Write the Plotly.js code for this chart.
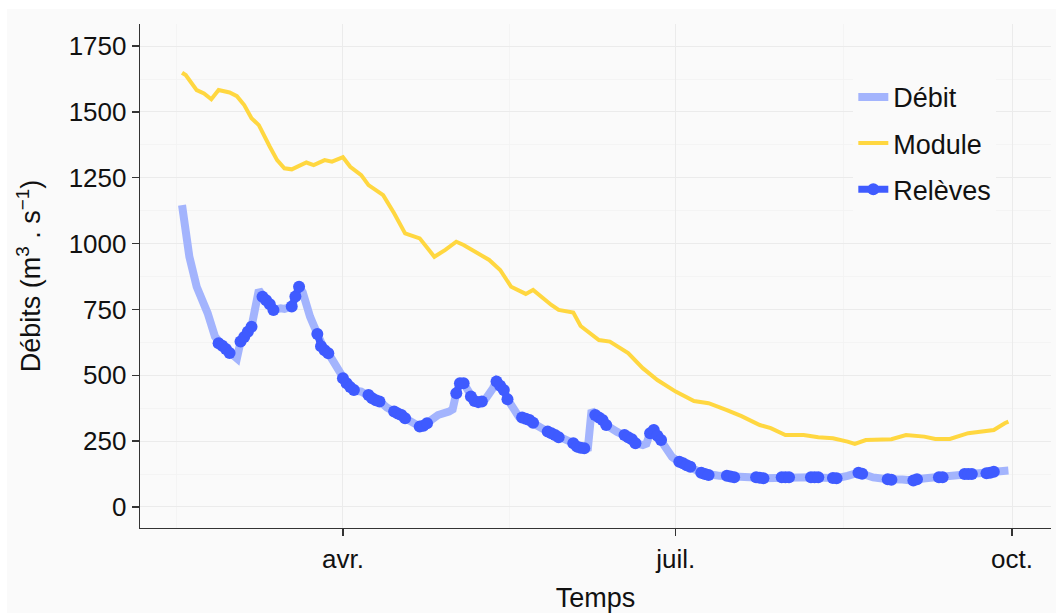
<!DOCTYPE html>
<html>
<head>
<meta charset="utf-8">
<script src="https://cdn.plot.ly/plotly-3.0.1.min.js"></script>
<style>
  html, body { margin: 0; padding: 0; background: #ffffff; }
  #chart { position: absolute; left: 7px; top: 9px; width: 1049px; height: 604px; }
</style>
</head>
<body>
<div id="chart"></div>
<script>
const YEAR = '2021';

// Débit (daily flow, light blue line)
const debitDates = ['02-16','02-18','02-20','02-23','02-25','02-26','02-27','02-28','03-01','03-03',
  '03-04','03-05','03-06','03-07','03-09','03-10','03-11','03-12','03-13','03-15',
  '03-16','03-18','03-19','03-20','03-21','03-22','03-23','03-24','03-25','03-26',
  '03-27','03-28','03-29','03-30','03-31','04-01','04-02','04-03','04-04','04-05',
  '04-06','04-07','04-08','04-09','04-10','04-11','04-12','04-13','04-14','04-15',
  '04-16','04-17','04-18','04-19','04-20','04-21','04-22','04-23','04-24','04-25',
  '04-27','04-30','05-01','05-02','05-03','05-04','05-05','05-06','05-07','05-08',
  '05-09','05-10','05-11','05-12','05-13','05-14','05-15','05-16','05-17','05-18',
  '05-19','05-20','05-21','05-22','05-23','05-24','05-25','05-26','05-27','05-28',
  '05-29','05-30','05-31','06-01','06-02','06-03','06-04','06-05','06-06','06-07',
  '06-08','06-09','06-10','06-11','06-12','06-13','06-14','06-15','06-16','06-17',
  '06-18','06-19','06-20','06-21','06-22','06-23','06-24','06-25','06-26','06-27',
  '06-28','06-29','06-30','07-01','07-02','07-03','07-04','07-05','07-06','07-07',
  '07-08','07-09','07-10','07-12','07-13','07-15','07-16','07-17','07-20','07-23',
  '07-24','07-25','07-27','07-30','07-31','08-01','08-04','08-07','08-08','08-09',
  '08-11','08-13','08-14','08-17','08-20','08-21','08-24','08-28','08-29','09-01',
  '09-04','09-05','09-08','09-11','09-12','09-15','09-18','09-19','09-20','09-22',
  '09-24','09-25','09-26','09-28','09-30'];
const debitValues = [1146,950,836,736,647,622,612,600,585,564,
  628,645,665,684,824,798,785,770,748,754,
  752,761,799,836,815,760,723,690,657,610,
  595,584,560,530,505,489,470,455,444,440,
  438,432,425,413,405,400,390,378,370,362,
  355,349,337,330,320,310,305,308,318,330,
  349,362,370,432,470,470,445,419,402,398,
  400,410,425,450,476,460,444,409,385,360,
  345,340,335,330,320,310,300,292,286,280,
  273,265,258,252,248,242,229,225,223,225,
  368,349,340,330,311,300,292,285,278,273,
  265,257,242,238,235,240,280,292,270,254,
  230,205,190,180,172,166,158,153,145,135,
  130,125,121,120,118,118,116,113,112,113,
  111,109,111,113,113,113,112,113,113,113,
  111,110,109,118,130,126,112,105,103,104,
  100,105,110,113,113,118,125,125,125,126,
  128,130,134,136,138];

// Module (yellow line)
const moduleDates = ['02-16','02-17','02-20','02-22','02-24','02-26','03-01','03-03','03-05','03-07',
  '03-09','03-10','03-12','03-14','03-16','03-18','03-22','03-24','03-27','03-29',
  '04-01','04-03','04-06','04-08','04-12','04-15','04-18','04-22','04-26','04-29',
  '05-02','05-04','05-08','05-11','05-14','05-17','05-21','05-23','05-28','05-30',
  '06-03','06-05','06-10','06-13','06-18','06-22','06-26','07-01','07-06','07-10',
  '07-15','07-19','07-24','07-27','07-31','08-05','08-09','08-13','08-17','08-19',
  '08-22','08-26','08-29','09-02','09-07','09-10','09-14','09-19','09-22','09-26',
  '09-29','09-30'];
const moduleValues = [1649,1640,1583,1570,1548,1583,1574,1560,1526,1476,
  1450,1425,1368,1317,1286,1282,1308,1298,1317,1311,
  1328,1292,1260,1222,1184,1115,1039,1020,950,976,
  1007,995,963,938,900,836,809,824,767,748,
  738,687,634,628,584,527,482,438,402,394,
  368,345,311,299,273,273,265,261,248,239,
  254,257,257,273,267,258,258,280,284,292,
  318,324];

// Relèves (measurements, dark blue; null separates the series of readings)
const releveDates = ['02-26','02-27','02-28','03-01','03-02',
  '03-04','03-05','03-06','03-07','03-08',
  '03-10','03-11','03-12','03-13','03-15',
  '03-18','03-19','03-20','03-22',
  '03-25','03-26','03-27','03-28','03-30',
  '04-01','04-02','04-03','04-04','04-06',
  '04-08','04-09','04-10','04-11','04-13',
  '04-15','04-16','04-17','04-18','04-20',
  '04-22','04-23','04-24','04-28',
  '05-02','05-03','05-04','05-05',
  '05-06','05-07','05-08','05-09','05-11',
  '05-13','05-14','05-15','05-16','05-18',
  '05-20','05-21','05-22','05-23','05-25',
  '05-27','05-28','05-29','05-30','06-01',
  '06-03','06-04','06-05','06-06','06-07',
  '06-09','06-10','06-11','06-12','06-14',
  '06-17','06-18','06-19','06-20','06-22',
  '06-24','06-25','06-26','06-27','06-29',
  '07-02','07-03','07-04','07-05','07-06',
  '07-08','07-09','07-10','07-12',
  '07-15','07-16','07-17','07-20',
  '07-23','07-24','07-25','07-27',
  '07-30','07-31','08-01','08-04',
  '08-07','08-08','08-09','08-11',
  '08-13','08-14','08-17',
  '08-20','08-21','08-24',
  '08-28','08-29','09-01',
  '09-04','09-05','09-08',
  '09-11','09-12','09-15',
  '09-18','09-19','09-20','09-22',
  '09-24','09-25','09-26'];
const releveValues = [622,612,600,585,null,
  628,645,665,684,null,
  798,785,770,748,null,
  761,799,836,null,
  657,610,595,584,null,
  489,470,455,444,null,
  425,413,405,400,null,
  362,355,349,337,null,
  305,308,318,null,
  432,470,470,null,
  419,402,398,400,null,
  476,460,444,409,null,
  340,335,330,320,null,
  286,280,273,265,null,
  242,229,225,223,null,
  349,340,330,311,null,
  273,265,257,242,null,
  280,292,270,254,null,
  172,166,158,153,null,
  130,125,121,null,
  118,116,113,null,
  113,111,109,null,
  113,113,113,null,
  113,113,113,null,
  110,109,null,
  130,126,null,
  105,103,null,
  100,105,null,
  113,113,null,
  125,125,125,null,
  128,130,134];

const seriesNames = ['Débit', 'Module', 'Relèves'];
const xTickVals = ['04-01', '07-01', '10-01'];
const xTickText = ['avr.', 'juil.', 'oct.'];
const xMinorVals = ['02-14 12:00', '05-16 12:00', '08-16'];
const yTickVals = [0, 250, 500, 750, 1000, 1250, 1500, 1750];

const toDate = d => YEAR + '-' + d;
const FONT = 'Liberation Sans, Arial, sans-serif';

const traces = [
  {
    x: debitDates.map(toDate), y: debitValues, name: seriesNames[0],
    type: 'scatter', mode: 'lines', legendgroup: 'a',
    line: { color: '#a3b4fd', width: 8 }
  },
  {
    x: moduleDates.map(toDate), y: moduleValues, name: seriesNames[1],
    type: 'scatter', mode: 'lines', legendgroup: 'b',
    line: { color: '#ffd740', width: 4 }
  },
  {
    x: releveDates.map(toDate), y: releveValues, name: seriesNames[2],
    type: 'scatter', mode: 'lines+markers', legendgroup: 'c', connectgaps: false,
    line: { color: '#3f5bff', width: 7 },
    marker: { color: '#3f5bff', size: 12 }
  }
];

const layout = {
  width: 1049, height: 604,
  margin: { l: 133, r: 5, t: 15, b: 85 },
  paper_bgcolor: '#fafafa',
  plot_bgcolor: '#fafafa',
  font: { family: FONT, color: '#111111', size: 26 },
  showlegend: true,
  legend: {
    x: 0.783, y: 0.903, xanchor: 'left', yanchor: 'top',
    bgcolor: '#fafafa', borderwidth: 0,
    font: { family: FONT, size: 27, color: '#111111' },
    traceorder: 'grouped', tracegroupgap: 8,
    itemwidth: 30
  },
  xaxis: {
    type: 'date',
    range: [toDate('02-04 12:00'), toDate('10-11 15:30')],
    tickmode: 'array', tickvals: xTickVals.map(toDate), ticktext: xTickText,
    ticks: 'outside', ticklen: 7, tickwidth: 1.3, tickcolor: '#333333',
    tickfont: { family: FONT, size: 26, color: '#111111' },
    showline: true, linecolor: '#333333', linewidth: 1.3,
    showgrid: true, gridcolor: '#ebebeb', gridwidth: 1,
    minor: { tickmode: 'array', tickvals: xMinorVals.map(toDate), showgrid: true, gridcolor: '#f2f2f2', gridwidth: 0.8, ticks: '' },
    zeroline: false,
    title: { text: 'Temps', font: { family: FONT, size: 27, color: '#111111' }, standoff: 17 },
    automargin: false
  },
  yaxis: {
    range: [-80, 1834],
    tickmode: 'array', tickvals: yTickVals,
    ticks: 'outside', ticklen: 7, tickwidth: 1.3, tickcolor: '#333333',
    tickfont: { family: FONT, size: 26, color: '#111111' },
    showline: true, linecolor: '#333333', linewidth: 1.3,
    showgrid: true, gridcolor: '#ebebeb', gridwidth: 1,
    minor: { dtick: 125, tick0: 0, showgrid: true, gridcolor: '#f2f2f2', gridwidth: 0.8, ticks: '' },
    zeroline: false,
    title: { text: 'Débits (m<sup>3</sup> . s<sup>−1</sup>)', font: { family: FONT, size: 27, color: '#111111' }, standoff: 20 },
    automargin: false
  }
};

Plotly.newPlot('chart', traces, layout, { staticPlot: true, displayModeBar: false });
</script>
</body>
</html>
